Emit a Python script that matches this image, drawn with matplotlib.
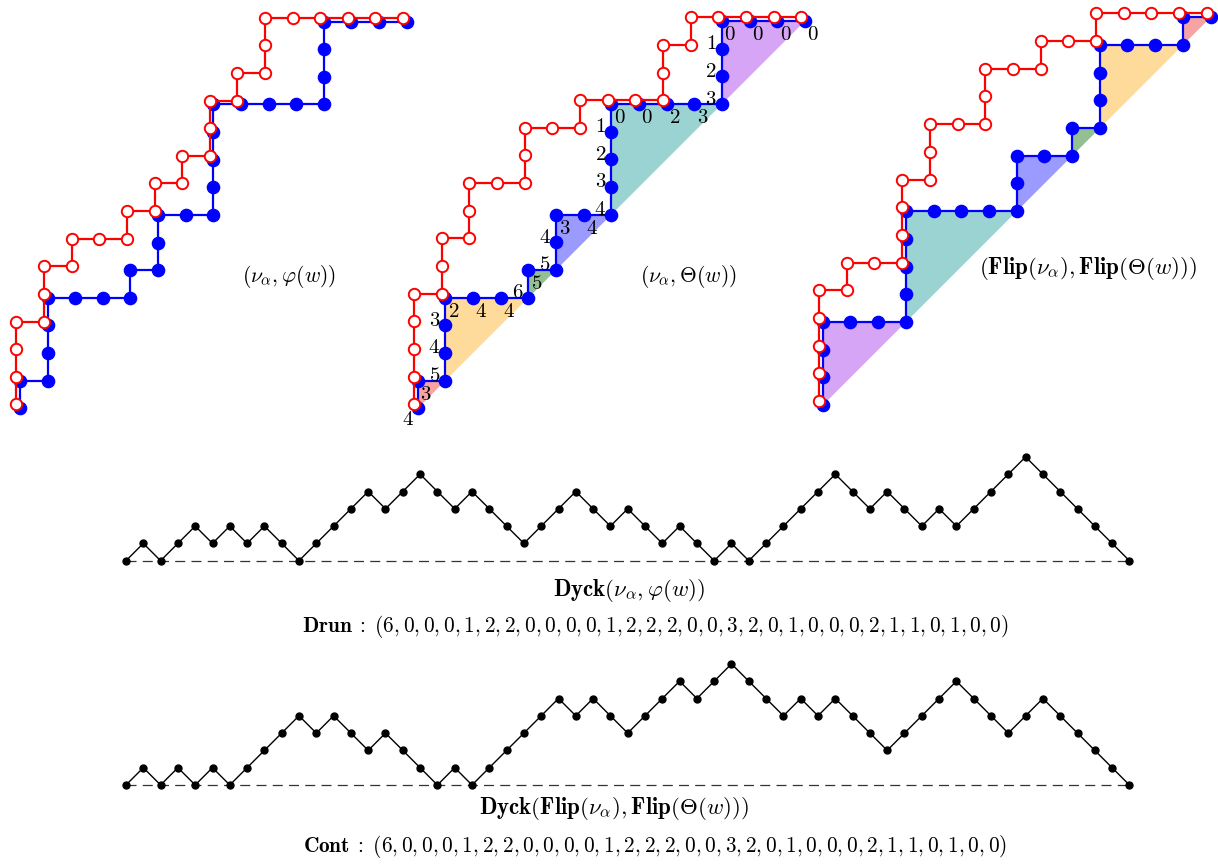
import matplotlib.pyplot as plt

plt.rcParams['mathtext.fontset'] = 'cm'

W, H = 1218, 864

# lattice paths as step words (N = north, E = east)
nu_first = "NNNENNENEENENENENNENENNEEEEE"
nu_alpha = "NNNNENNENNEENNEENEEENNENEEEE"
theta_blocks = [1, 3, 1, 2, 4, 3]          # N^k E^k blocks of the blue path
block_colors = ['#f5a3a3', '#fedb9b', '#93bf93', '#9b9bff', '#9bd3d2', '#d6a5f5']
theta_labels = [4, 3, 5, 4, 3, 2, 4, 4, 6, 5, 5, 4, 3, 4, 4, 3, 2, 1,
                0, 0, 2, 3, 3, 2, 1, 0, 0, 0, 0]

# Dyck path heights
dyck1 = [0, 1, 0, 1, 2, 1, 2, 1, 2, 1, 0, 1, 2, 3, 4, 3, 4, 5, 4, 3,
         4, 3, 2, 1, 2, 3, 4, 3, 2, 3, 2, 1, 2, 1, 0, 1, 0, 1, 2, 3,
         4, 5, 4, 3, 4, 3, 2, 3, 2, 3, 4, 5, 6, 5, 4, 3, 2, 1, 0]
dyck2 = [0, 1, 0, 1, 0, 1, 0, 1, 2, 3, 4, 3, 4, 3, 2, 3, 2, 1, 0, 1,
         0, 1, 2, 3, 4, 5, 4, 5, 4, 3, 4, 5, 6, 5, 6, 7, 6, 5, 4, 5,
         4, 5, 4, 3, 2, 3, 4, 5, 6, 5, 4, 3, 4, 5, 4, 3, 2, 1, 0]
drun = [6, 0, 0, 0, 1, 2, 2, 0, 0, 0, 0, 1, 2, 2, 2, 0, 0, 3, 2, 0, 1, 0, 0, 0, 2, 1, 1, 0, 1, 0, 0]
cont = [6, 0, 0, 0, 1, 2, 2, 0, 0, 0, 0, 1, 2, 2, 2, 0, 0, 3, 2, 0, 1, 0, 0, 0, 2, 1, 1, 0, 1, 0, 0]

RED_SHIFT = (-0.13, 0.14)
FS = 15.5


def block_word(blocks):
    return "".join("N" * k + "E" * k for k in blocks)


def flip(word):
    return "".join("N" if c == "E" else "E" for c in reversed(word))


def walk(word):
    xs, ys = [0], [0]
    for c in word:
        xs.append(xs[-1] + (c == "E"))
        ys.append(ys[-1] + (c == "N"))
    return xs, ys


def lattice_axes(fig, ox, oy, u, lo=-1.0, hi=15.0):
    ax = fig.add_axes([(ox + lo * u) / W, (H - oy + lo * u) / H,
                       (hi - lo) * u / W, (hi - lo) * u / H])
    ax.set_xlim(lo, hi)
    ax.set_ylim(lo, hi)
    ax.axis('off')
    return ax


def shade(ax, blocks, colors):
    s = 0
    for k, c in zip(blocks, colors):
        ax.fill([s, s, s + k], [s, s + k, s + k], color=c, lw=0, zorder=1)
        s += k


def draw_paths(ax, blue_word, red_word):
    bx, by = walk(blue_word)
    ax.plot(bx, by, color='blue', lw=1.6, marker='o', ms=8.8,
            mfc='blue', mec='blue', zorder=3)
    rx, ry = walk(red_word)
    ax.plot([x + RED_SHIFT[0] for x in rx], [y + RED_SHIFT[1] for y in ry],
            color='red', lw=1.6, marker='o', ms=8.2, mfc='white', mec='red',
            mew=1.4, zorder=4)


def dyck_axes(fig, heights, ox, oy, u):
    n = len(heights) - 1
    ax = fig.add_axes([(ox - u) / W, (H - oy - u) / H,
                       (n + 2) * u / W, 9 * u / H])
    ax.set_xlim(-1, n + 1)
    ax.set_ylim(-1, 8)
    ax.axis('off')
    ax.plot([0, n], [0, 0], color='#333333', lw=0.9, ls=(0, (8, 5)), zorder=1)
    ax.plot(range(n + 1), heights, color='black', lw=1.0, marker='o', ms=5,
            zorder=2)
    return ax


def label(fig, x, y, s, size=FS):
    fig.text(x / W, 1 - y / H, s, ha='center', va='center', fontsize=size)


fig = plt.figure(figsize=(W / 100, H / 100), dpi=100)

theta = block_word(theta_blocks)

# panel 1
ax1 = lattice_axes(fig, 20.0, 408.3, 27.62)
draw_paths(ax1, theta, nu_first)

# panel 2
ax2 = lattice_axes(fig, 417.7, 408.3, 27.66)
shade(ax2, theta_blocks, block_colors)
draw_paths(ax2, theta, nu_alpha)
px, py = walk(theta)
for i, (x, y) in enumerate(zip(px, py)):
    if i == 0:
        dx, dy = -0.34, -0.4
    elif i == len(theta) or theta[i] == "E":
        dx, dy = 0.3, -0.48
    else:
        dx, dy = -0.4, 0.2
    ax2.text(x + dx, y + dy, "$%d$" % theta_labels[i], ha='center', va='center',
             fontsize=15, zorder=5)

# panel 3
ax3 = lattice_axes(fig, 822.7, 405.0, 27.7)
shade(ax3, theta_blocks[::-1], block_colors[::-1])
draw_paths(ax3, flip(theta), flip(nu_alpha))

label(fig, 289, 277, r"$(\nu_\alpha, \varphi(w))$")
label(fig, 688, 277, r"$(\nu_\alpha, \Theta(w))$")
label(fig, 1088, 268, r"$(\mathbf{Flip}(\nu_\alpha), \mathbf{Flip}(\Theta(w)))$", 16.5)

# Dyck paths
dyck_axes(fig, dyck1, 126, 560.7, 17.3)
dyck_axes(fig, dyck2, 126, 785.0, 17.3)

label(fig, 629, 591, r"$\mathbf{Dyck}(\nu_\alpha, \varphi(w))$", 16.5)
label(fig, 655, 626, r"$\mathbf{Drun}\;:\;(" + ", ".join(str(v) for v in drun) + ")$", 15.3)
label(fig, 614, 809, r"$\mathbf{Dyck}(\mathbf{Flip}(\nu_\alpha), \mathbf{Flip}(\Theta(w)))$", 16.5)
label(fig, 655, 846, r"$\mathbf{Cont}\;:\;(" + ", ".join(str(v) for v in cont) + ")$", 15.3)

fig.savefig("out.png", dpi=100)
